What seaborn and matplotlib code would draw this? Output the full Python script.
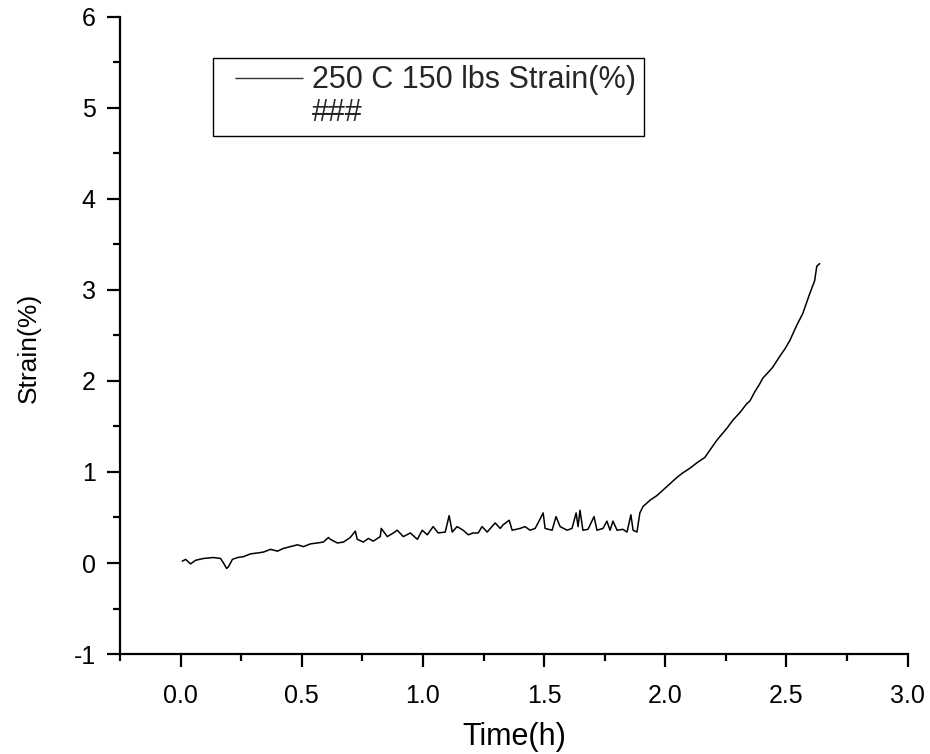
import numpy as np
import pandas as pd
import matplotlib
matplotlib.use("Agg")
import matplotlib.pyplot as plt
import seaborn as sns
from matplotlib.lines import Line2D
from matplotlib.ticker import MultipleLocator

# time (h) and strain (%)
time_h = [
    0.007, 0.021, 0.041, 0.062, 0.095, 0.136, 0.165, 0.177, 0.190, 0.198,
    0.214, 0.235, 0.260, 0.288, 0.317, 0.342, 0.371, 0.400, 0.424, 0.453,
    0.482, 0.507, 0.536, 0.564, 0.589, 0.610, 0.618, 0.647, 0.672, 0.700,
    0.721, 0.729, 0.754, 0.775, 0.795, 0.824, 0.828, 0.853, 0.878, 0.894,
    0.919, 0.948, 0.977, 0.997, 1.018, 1.042, 1.063, 1.092, 1.108, 1.121,
    1.141, 1.166, 1.187, 1.207, 1.228, 1.244, 1.265, 1.298, 1.319, 1.331,
    1.356, 1.368, 1.401, 1.421, 1.442, 1.463, 1.475, 1.496, 1.504, 1.533,
    1.549, 1.566, 1.595, 1.615, 1.632, 1.640, 1.648, 1.660, 1.681, 1.706,
    1.718, 1.743, 1.759, 1.772, 1.784, 1.801, 1.825, 1.842, 1.858, 1.867,
    1.883, 1.895, 1.908, 1.937, 1.965, 1.990, 2.019, 2.048, 2.072, 2.101,
    2.130, 2.163, 2.184, 2.213, 2.254, 2.279, 2.307, 2.336, 2.349, 2.369,
    2.390, 2.402, 2.423, 2.443, 2.472, 2.493, 2.513, 2.542, 2.567, 2.596,
    2.616, 2.625, 2.637,
]
strain_pct = [
    0.02, 0.04, -0.01, 0.03, 0.05, 0.06, 0.05, 0.00, -0.06, -0.04,
    0.04, 0.06, 0.07, 0.10, 0.11, 0.12, 0.15, 0.13, 0.16, 0.18,
    0.20, 0.18, 0.21, 0.22, 0.23, 0.28, 0.26, 0.22, 0.23, 0.28,
    0.35, 0.26, 0.23, 0.27, 0.24, 0.29, 0.38, 0.29, 0.33, 0.36,
    0.29, 0.33, 0.26, 0.36, 0.31, 0.40, 0.33, 0.34, 0.52, 0.34,
    0.40, 0.36, 0.31, 0.33, 0.33, 0.40, 0.34, 0.44, 0.38, 0.42,
    0.47, 0.36, 0.38, 0.40, 0.36, 0.38, 0.44, 0.55, 0.38, 0.36,
    0.51, 0.40, 0.36, 0.38, 0.55, 0.40, 0.58, 0.36, 0.37, 0.51,
    0.36, 0.38, 0.46, 0.36, 0.46, 0.36, 0.37, 0.34, 0.53, 0.36,
    0.34, 0.55, 0.62, 0.69, 0.74, 0.80, 0.87, 0.94, 0.99, 1.04,
    1.10, 1.16, 1.24, 1.35, 1.48, 1.57, 1.65, 1.75, 1.78, 1.88,
    1.97, 2.03, 2.09, 2.15, 2.27, 2.35, 2.44, 2.61, 2.74, 2.96,
    3.10, 3.26, 3.29,
]
series_label = "250 C 150 lbs Strain(%)"
extra_label = "###"
x_ticks = [0.0, 0.5, 1.0, 1.5, 2.0, 2.5, 3.0]

sns.set_style("ticks")
plt.rcParams["font.family"] = ["Liberation Sans", "DejaVu Sans"]
plt.rcParams["axes.unicode_minus"] = False

data = pd.DataFrame({"Time(h)": time_h, "Strain(%)": strain_pct})

fig = plt.figure(figsize=(9.3, 7.54), dpi=100)
ax = fig.add_axes([0.129, 0.1326, 0.847, 0.845])

sns.lineplot(data=data, x="Time(h)", y="Strain(%)", ax=ax, color="black",
             linewidth=1.1, sort=False, estimator=None)

ax.set_xlim(-0.25, 3.0)
ax.set_ylim(-1, 6)
ax.set_xticks(x_ticks)
ax.set_xticklabels([f"{v:.1f}" for v in x_ticks])
ax.xaxis.set_minor_locator(MultipleLocator(0.25))
ax.yaxis.set_major_locator(MultipleLocator(1))
ax.yaxis.set_minor_locator(MultipleLocator(0.5))

ax.tick_params(which="major", direction="out", length=9.5, width=1.6,
               labelsize=18, pad=8, color="black", labelcolor="black")
ax.tick_params(which="minor", direction="out", length=5, width=1.6,
               color="black")
ax.tick_params(axis="x", which="major", pad=12)

sns.despine(ax=ax)
for side in ["left", "bottom"]:
    ax.spines[side].set_linewidth(1.6)
    ax.spines[side].set_color("black")

ax.set_xlabel("Time(h)", fontsize=22, color="black", labelpad=10)
ax.set_ylabel("Strain(%)", fontsize=19, color="black")
ax.yaxis.set_label_coords(-0.10, 0.48)

# legend handle: blank lead-in, then the line segment (Origin style)
handles = [Line2D([], [], color="#333333", linewidth=1.0,
                  linestyle=(140.0, (50.0, 100.0))),
           Line2D([], [], color="none")]
leg = ax.legend(handles, [series_label, extra_label], loc="upper left",
                bbox_to_anchor=(0.118, 0.936), borderaxespad=0,
                fontsize=22, frameon=True, fancybox=False,
                handlelength=2.7, handletextpad=0.3, labelspacing=0.1,
                borderpad=0.25, edgecolor="black", framealpha=1)
leg.get_frame().set_linewidth(1.0)

fig.savefig("out.png", dpi=100)
